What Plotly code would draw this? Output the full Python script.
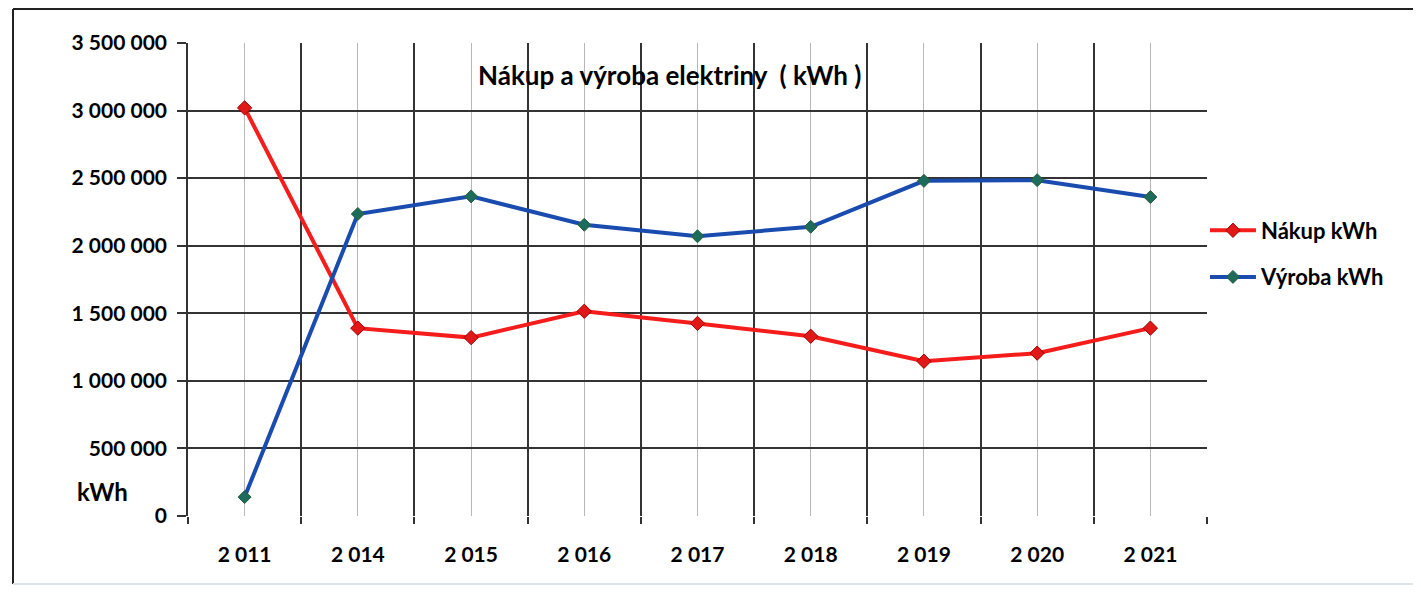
import plotly.graph_objects as go

years = ["2 011", "2 014", "2 015", "2 016", "2 017", "2 018", "2 019", "2 020", "2 021"]
nakup = [3020000, 1390000, 1320000, 1515000, 1425000, 1330000, 1145000, 1205000, 1390000]
vyroba = [140000, 2235000, 2365000, 2155000, 2070000, 2140000, 2480000, 2485000, 2360000]

xpos = list(range(len(years)))
bounds = [i - 0.5 for i in range(len(years) + 1)]

FONT = "Lato"
fig = go.Figure()
fig.add_trace(go.Scatter(
    x=xpos, y=nakup, name="Nákup kWh", mode="lines+markers", legendgroup="a",
    line=dict(color="#f51c1c", width=4),
    marker=dict(symbol="diamond", size=11, color="#e01818", line=dict(color="#a00000", width=1)),
))
fig.add_trace(go.Scatter(
    x=xpos, y=vyroba, name="Výroba kWh", mode="lines+markers", legendgroup="b",
    line=dict(color="#1a4cb0", width=4),
    marker=dict(symbol="diamond", size=10, color="#1d6b5a", line=dict(color="#2a5f40", width=1)),
))

fx0 = (13 - 188) / 1019
fy_top = (516 - 9) / 473
fy_bot = (516 - 584) / 473

fig.update_layout(
    width=1405, height=578,
    margin=dict(l=180, r=206, t=35, b=70),
    paper_bgcolor="white", plot_bgcolor="white",
    separators=", ",
    font=dict(family=FONT, color="black", size=21),
    showlegend=True,
    legend=dict(x=0.998, y=0.648, xanchor="left", yanchor="top",
                font=dict(family=FONT, size=22, weight=700, color="black"),
                bgcolor="rgba(0,0,0,0)", tracegroupgap=15, itemwidth=46),
    xaxis=dict(
        range=[-0.5, len(years) - 0.5],
        tickmode="array", tickvals=xpos, ticktext=years,
        showgrid=True, gridcolor="#b8b8b8", gridwidth=1,
        ticks="", tickfont=dict(family=FONT, size=21, weight=700),
        minor=dict(tickmode="array", tickvals=bounds, showgrid=True,
                   gridcolor="#333333", gridwidth=1.5,
                   ticks="outside", ticklen=7, tickcolor="#333333", tickwidth=1.5),
        showline=False, zeroline=False, ticklabelstandoff=24,
    ),
    yaxis=dict(
        range=[0, 3500000], tickmode="linear", tick0=0, dtick=500000,
        tickformat=",d",
        showgrid=True, gridcolor="#333333", gridwidth=1.5,
        ticks="outside", ticklen=9, tickcolor="#333333", tickwidth=1.5,
        showline=True, linecolor="#333333", linewidth=1.5,
        zeroline=False,
        tickfont=dict(family=FONT, size=21, weight=700),
        ticklabelstandoff=6,
    ),
    annotations=[
        dict(text="Nákup a výroba elektriny\u00a0\u00a0( kWh )", xref="paper", yref="paper",
             x=0.473, y=0.932, xanchor="center", yanchor="middle", showarrow=False,
             font=dict(family=FONT, size=26, weight=700, color="black")),
        dict(text="kWh", xref="paper", yref="paper", x=-0.084, y=0.051,
             xanchor="center", yanchor="middle", showarrow=False,
             font=dict(family=FONT, size=24, weight=700, color="black")),
    ],
    shapes=[
        dict(type="line", xref="paper", yref="paper", x0=fx0, x1=1.3, y0=fy_top, y1=fy_top,
             line=dict(color="#222222", width=2), layer="below"),
        dict(type="line", xref="paper", yref="paper", x0=fx0, x1=fx0, y0=fy_bot, y1=fy_top,
             line=dict(color="#222222", width=2), layer="below"),
        dict(type="line", xref="paper", yref="paper", x0=fx0, x1=1.3, y0=fy_bot, y1=fy_bot,
             line=dict(color="#dde3ea", width=2), layer="below"),
    ],
)

fig.write_html("out.html")
